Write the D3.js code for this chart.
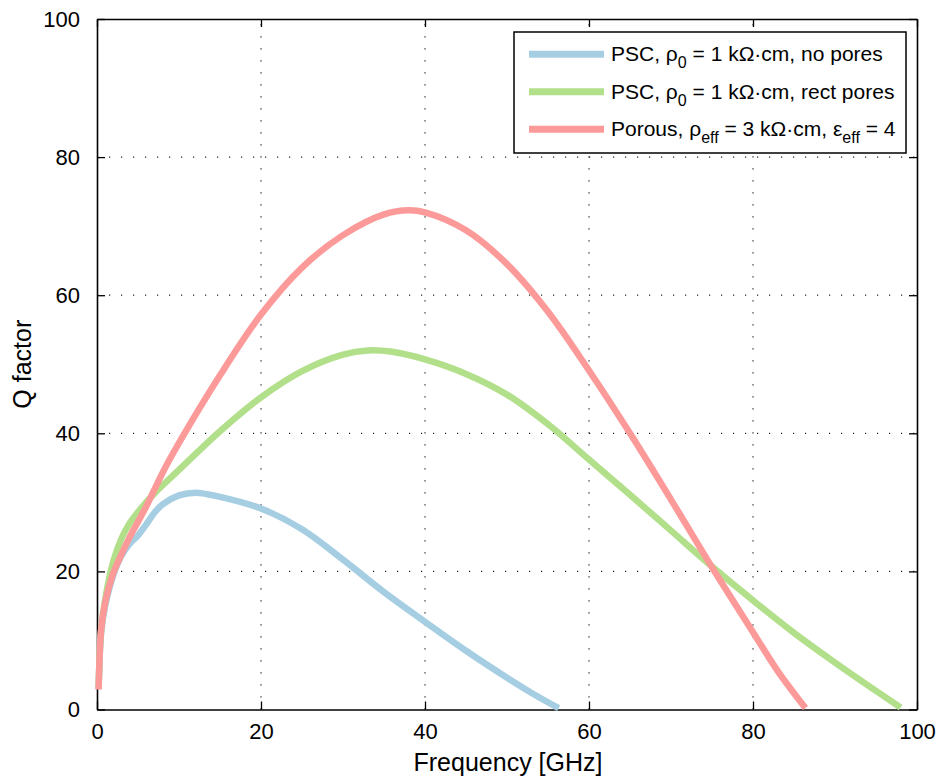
<!DOCTYPE html>
<html>
<head>
<meta charset="utf-8">
<script src="https://cdn.jsdelivr.net/npm/d3@7"></script>
<style>
  html, body { margin: 0; padding: 0; background: #fff; }
  svg { display: block; font-family: "Liberation Sans", Arial, Helvetica, sans-serif; }
</style>
</head>
<body>
<svg id="chart" width="941" height="776"></svg>
<script>
// ---- data ----
const xTicks = [0, 20, 40, 60, 80, 100];
const yTicks = [0, 20, 40, 60, 80, 100];

const blueF = [0.2,0.5,1,2,3,4,5,6,7,8,10,12,15,20,25,30,35,40,45,50,53,56.3];
const blueQ = [3,11,15,19.5,22.3,24,25.2,26.8,28.5,29.7,31,31.4,30.8,29.1,26.1,21.7,17.0,12.7,8.5,4.6,2.4,0.2];

const greenF = [0.2,0.5,1,2,3,4,5,7,10,15,20,25,30,33,36,40,45,50,55,60,65,70,75,80,85,90,95,98];
const greenQ = [3,11.5,16,21.5,24.8,27,28.6,31.3,34.7,40.3,45.2,49.0,51.4,52.0,51.8,50.7,48.6,45.6,41.3,36.2,31.1,25.9,20.7,15.8,11.1,6.8,2.7,0.3];

const redF = [0.2,0.5,1,2,3,4,6,8,10,15,20,25,30,35,38,40,45,50,55,60,65,70,75,80,83,86.4];
const redQ = [2.9,11.5,15.5,19.8,22.5,25,29.4,34.3,38.6,48.4,57.2,64.0,68.7,71.7,72.3,72.0,69.4,64.5,57.6,49.1,40.0,30.4,20.6,11.2,5.6,0.2];

const seriesNames = [
  "PSC, ρ0 = 1 kΩ·cm, no pores",
  "PSC, ρ0 = 1 kΩ·cm, rect pores",
  "Porous, ρeff = 3 kΩ·cm, εeff = 4"
];
const colors = ["#a6cee3", "#b2df8a", "#fb9a99"];

// ---- layout ----
const svg = d3.select("#chart");
const L = 97, R = 917, T = 19, B = 709.5;
const x = d3.scaleLinear().domain([0, 100]).range([L, R]);
const y = d3.scaleLinear().domain([0, 100]).range([B, T]);

// grid
const grid = svg.append("g").attr("stroke", "#222").attr("stroke-width", 1.2)
  .attr("stroke-dasharray", "1.2,10.8");
xTicks.slice(1, -1).forEach(v => {
  grid.append("line").attr("x1", x(v)).attr("x2", x(v)).attr("y1", B).attr("y2", T);
});
yTicks.slice(1, -1).forEach(v => {
  grid.append("line").attr("x1", L).attr("x2", R).attr("y1", y(v)).attr("y2", y(v));
});

// axes (inner ticks on all four sides)
const tickLen = 8;
const fs = 22;
const xb = svg.append("g").attr("transform", `translate(0,${B})`)
  .call(d3.axisBottom(x).tickValues(xTicks).tickSizeInner(-tickLen).tickSizeOuter(0).tickPadding(14));
const xt = svg.append("g").attr("transform", `translate(0,${T})`)
  .call(d3.axisTop(x).tickValues(xTicks).tickSizeInner(-tickLen).tickSizeOuter(0).tickFormat(""));
const yl = svg.append("g").attr("transform", `translate(${L},0)`)
  .call(d3.axisLeft(y).tickValues(yTicks).tickSizeInner(-tickLen).tickSizeOuter(0).tickPadding(17));
const yr = svg.append("g").attr("transform", `translate(${R},0)`)
  .call(d3.axisRight(y).tickValues(yTicks).tickSizeInner(-tickLen).tickSizeOuter(0).tickFormat(""));
[xb, xt, yl, yr].forEach(g => {
  g.selectAll("path").attr("stroke", "#000").attr("stroke-width", 1.6);
  g.selectAll("line").attr("stroke", "#000").attr("stroke-width", 1.3);
  g.selectAll("text").attr("fill", "#000").style("font-size", fs + "px")
    .style("font-family", '"Liberation Sans", Arial, sans-serif');
});

// lines
const line = d3.line().x(d => x(d[0])).y(d => y(d[1])).curve(d3.curveCatmullRom.alpha(0.5));
const series = [
  d3.zip(blueF, blueQ),
  d3.zip(greenF, greenQ),
  d3.zip(redF, redQ)
];
series.forEach((s, i) => {
  svg.append("path").datum(s).attr("d", line)
    .attr("fill", "none").attr("stroke", colors[i]).attr("stroke-width", 6.5)
    .attr("stroke-linejoin", "round");
});

// axis labels
svg.append("text").attr("x", (L + R) / 2 + 1).attr("y", 771).attr("text-anchor", "middle")
  .style("font-size", "25px").text("Frequency [GHz]");
svg.append("text").attr("transform", `translate(31,${(T + B) / 2}) rotate(-90)`)
  .attr("text-anchor", "middle").style("font-size", "25px").text("Q factor");

// legend
const lg = svg.append("g");
lg.append("rect").attr("x", 514).attr("y", 32).attr("width", 392).attr("height", 121)
  .attr("fill", "#fff").attr("stroke", "#000").attr("stroke-width", 1.5);
const rowY = [54.3, 91.7, 129.3];
seriesNames.forEach((name, i) => {
  lg.append("line").attr("x1", 529).attr("x2", 604).attr("y1", rowY[i]).attr("y2", rowY[i])
    .attr("stroke", colors[i]).attr("stroke-width", 7);
  const t = lg.append("text").attr("x", 611).attr("y", rowY[i] + 7).style("font-size", "21px");
  if (i < 2) {
    t.append("tspan").text("PSC, ρ");
    t.append("tspan").attr("dy", 7).style("font-size", "16px").text("0");
    t.append("tspan").attr("dy", -7).text(" = 1 kΩ·cm, " + (i === 0 ? "no pores" : "rect pores"));
  } else {
    t.append("tspan").text("Porous, ρ");
    t.append("tspan").attr("dy", 7).style("font-size", "16px").text("eff");
    t.append("tspan").attr("dy", -7).text(" = 3 kΩ·cm, ε");
    t.append("tspan").attr("dy", 7).style("font-size", "16px").text("eff");
    t.append("tspan").attr("dy", -7).text(" = 4");
  }
});
</script>
</body>
</html>
